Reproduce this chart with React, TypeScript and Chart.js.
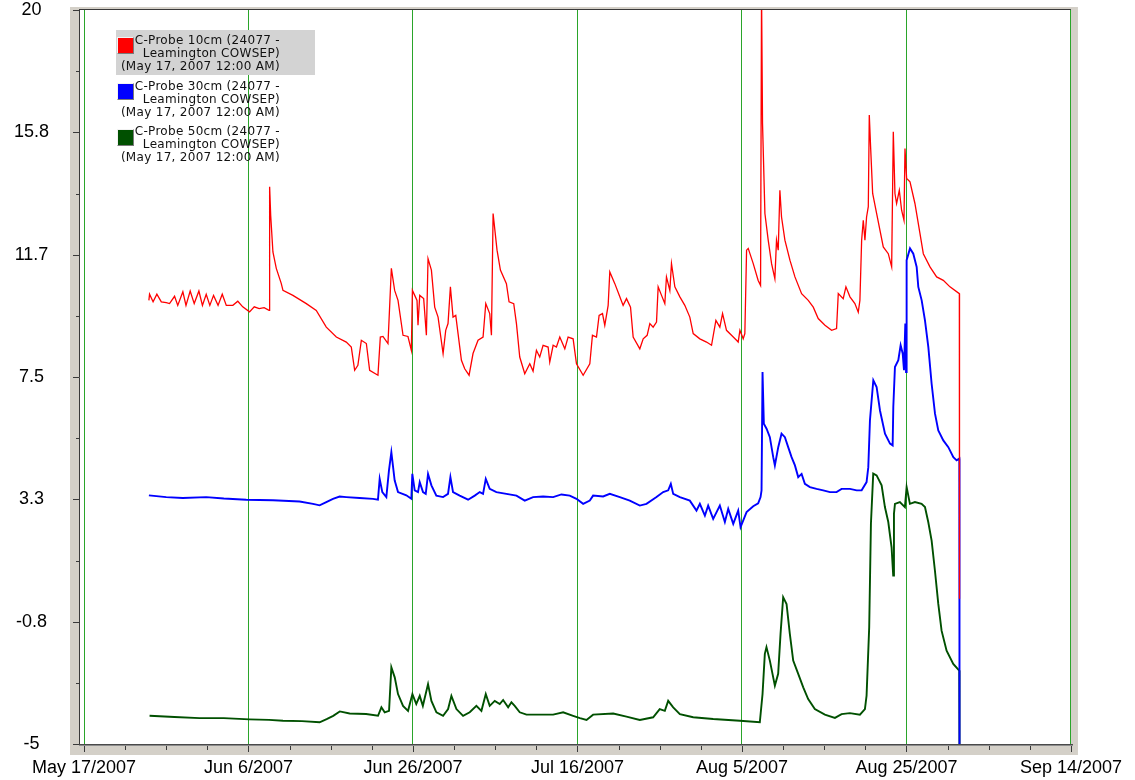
import React, { useEffect, useRef } from "react";
import { Chart, registerables } from "chart.js";

Chart.register(...registerables);

// ---- axis data ----
const X_TICK_DAYS = [0, 20, 40, 60, 80, 100, 120];
const X_TICK_LABELS = ["May 17/2007", "Jun 6/2007", "Jun 26/2007", "Jul 16/2007", "Aug 5/2007", "Aug 25/2007", "Sep 14/2007"];
const X_MINOR_STEP = 5;
const Y_TICK_VALUES = [-5, -0.8333, 3.3333, 7.5, 11.6667, 15.8333, 20];
const Y_TICK_LABELS = ["-5", "-0.8", "3.3", "7.5", "11.7", "15.8", "20"];

// ---- legend text ----
const SERIES_LINES: string[][] = [
  ["C-Probe 10cm (24077 -", "Leamington COWSEP)", "(May 17, 2007 12:00 AM)"],
  ["C-Probe 30cm (24077 -", "Leamington COWSEP)", "(May 17, 2007 12:00 AM)"],
  ["C-Probe 50cm (24077 -", "Leamington COWSEP)", "(May 17, 2007 12:00 AM)"],
];
const SERIES_COLORS = ["#ff0000", "#0000ff", "#005000"];

// ---- series: [days since May 17 2007, value] ----
const PROBE_10CM: [number, number][] = [
  [7.89, 10.11], [7.97, 10.32], [8.4, 10.06], [8.86, 10.32], [9.4, 10.06], [10.0, 10.03], [10.4, 10.0],
  [11.01, 10.25], [11.4, 9.94], [12.02, 10.4], [12.4, 9.94], [12.91, 10.43], [13.4, 10.0], [13.97, 10.43],
  [14.4, 9.94], [14.86, 10.32], [15.3, 9.94], [15.75, 10.28], [16.3, 9.94], [16.81, 10.32], [17.3, 9.94],
  [18.1, 9.94], [18.7, 10.08], [19.3, 9.89], [20.13, 9.72], [20.7, 9.89], [21.3, 9.83], [21.9, 9.86], [22.5, 9.77],
  [22.57, 13.98], [22.7, 13.0], [22.97, 11.76], [23.38, 11.2], [23.98, 10.69], [24.19, 10.45], [25.4, 10.28],
  [27.03, 10.0], [28.24, 9.77], [29.46, 9.2], [30.68, 8.86], [31.89, 8.69], [32.5, 8.52], [32.91, 7.73],
  [33.3, 7.9], [33.72, 8.75], [34.33, 8.64], [34.73, 7.73], [35.74, 7.56], [36.03, 8.86], [36.35, 8.88],
  [36.96, 8.64], [37.37, 11.2], [37.77, 10.45], [38.18, 10.11], [38.79, 8.92], [39.39, 8.88], [39.8, 8.41],
  [39.93, 10.45], [40.21, 10.28], [40.49, 10.11], [40.61, 9.26], [40.82, 10.28], [41.3, 10.17], [41.63, 8.92],
  [41.83, 11.53], [42.24, 11.14], [42.64, 9.88], [43.05, 9.54], [43.66, 8.3], [43.98, 9.09], [44.26, 9.32],
  [44.55, 10.57], [44.87, 9.54], [45.2, 9.6], [45.89, 8.07], [46.29, 7.78], [46.82, 7.56], [47.3, 8.3],
  [47.91, 8.75], [48.52, 8.86], [48.85, 10.0], [49.33, 9.66], [49.54, 8.92], [49.74, 13.07], [50.22, 11.82],
  [50.63, 11.14], [51.36, 10.68], [51.68, 10.06], [52.25, 10.0], [52.58, 9.32], [52.98, 8.18], [53.59, 7.61],
  [54.2, 7.95], [54.6, 7.7], [55.01, 8.41], [55.41, 8.18], [55.82, 8.58], [56.43, 8.52], [56.63, 8.01],
  [57.04, 8.58], [57.44, 8.52], [57.85, 8.86], [58.46, 8.46], [58.86, 8.86], [59.47, 8.8], [59.88, 7.95],
  [60.69, 7.56], [61.5, 7.95], [61.82, 8.92], [62.31, 8.86], [62.63, 9.6], [63.04, 9.66], [63.32, 9.26],
  [63.73, 9.94], [63.93, 11.08], [64.54, 10.68], [65.15, 10.23], [65.55, 9.94], [65.96, 10.17], [66.45, 9.88],
  [66.77, 8.86], [67.58, 8.46], [67.99, 8.8], [68.47, 8.92], [68.8, 9.32], [69.2, 9.2], [69.61, 9.37],
  [69.81, 10.57], [70.22, 10.28], [70.62, 10.0], [70.82, 10.91], [71.23, 10.45], [71.43, 11.36], [71.84, 10.57],
  [72.45, 10.23], [73.05, 9.94], [73.66, 9.54], [74.07, 8.98], [74.88, 8.8], [75.69, 8.69], [76.3, 8.58],
  [76.83, 9.43], [77.31, 9.2], [77.64, 9.66], [78.12, 9.09], [78.73, 8.92], [79.34, 8.75], [79.54, 8.69],
  [79.75, 9.09], [80.15, 8.8], [80.35, 8.98], [80.56, 11.82], [80.76, 11.88], [81.37, 11.36], [81.97, 10.79],
  [82.26, 10.62], [82.38, 20.6], [82.5, 16.13], [82.79, 13.07], [83.19, 12.16], [83.6, 11.36], [84.0, 10.85],
  [84.2, 12.16], [84.41, 11.82], [84.61, 13.86], [84.81, 12.95], [85.22, 12.16], [85.83, 11.48], [86.44, 10.91],
  [87.25, 10.34], [88.06, 10.11], [88.67, 9.88], [89.27, 9.49], [90.09, 9.26], [90.9, 9.09], [91.5, 9.15],
  [91.71, 10.34], [92.31, 10.17], [92.64, 10.57], [93.13, 10.23], [93.73, 10.0], [94.14, 9.71], [94.34, 10.11],
  [94.55, 12.16], [94.75, 12.84], [94.95, 12.16], [95.15, 12.95], [95.36, 13.3], [95.48, 16.42], [95.64, 15.34],
  [95.89, 13.75], [96.37, 13.07], [97.18, 11.93], [97.79, 11.7], [98.2, 11.25], [98.4, 15.85], [98.6, 13.75],
  [98.8, 13.41], [99.13, 13.86], [99.41, 13.18], [99.7, 12.84], [99.82, 15.28], [100.02, 14.26], [100.43, 14.15],
  [101.03, 13.41], [101.64, 12.39], [102.05, 11.7], [102.86, 11.25], [103.67, 10.91], [104.48, 10.79],
  [105.29, 10.57], [106.43, 10.34], [106.45, -0.05],
];

const PROBE_30CM: [number, number][] = [
  [7.89, 3.47], [10.0, 3.41], [12.0, 3.38], [14.86, 3.41], [17.0, 3.36], [19.73, 3.32], [22.97, 3.3],
  [26.21, 3.26], [27.84, 3.18], [28.65, 3.13], [29.46, 3.24], [30.27, 3.35], [31.08, 3.43], [31.89, 3.41],
  [33.51, 3.38], [35.14, 3.35], [35.74, 3.32], [35.95, 4.03], [36.27, 3.58], [36.76, 3.41], [37.08, 4.32],
  [37.37, 4.94], [37.77, 3.98], [38.18, 3.58], [39.19, 3.47], [39.8, 3.35], [39.92, 4.2], [40.21, 3.64],
  [40.61, 3.58], [40.82, 3.92], [41.22, 3.58], [41.55, 3.52], [41.83, 4.2], [42.24, 3.81], [42.84, 3.46],
  [43.66, 3.41], [44.26, 3.52], [44.55, 4.09], [44.87, 3.58], [45.68, 3.46], [46.7, 3.32], [47.51, 3.46],
  [48.12, 3.58], [48.52, 3.52], [48.85, 4.03], [49.33, 3.69], [50.14, 3.58], [51.36, 3.52], [52.58, 3.46],
  [53.59, 3.29], [54.6, 3.41], [55.82, 3.43], [57.04, 3.41], [58.05, 3.5], [59.06, 3.46], [59.88, 3.35],
  [60.69, 3.18], [61.5, 3.29], [61.9, 3.46], [63.12, 3.43], [63.93, 3.52], [65.15, 3.41], [66.36, 3.29],
  [67.58, 3.12], [68.39, 3.18], [69.61, 3.41], [70.42, 3.58], [71.03, 3.64], [71.35, 3.86], [71.64, 3.52],
  [72.45, 3.41], [73.66, 3.29], [74.47, 2.95], [74.88, 3.18], [75.49, 2.78], [75.89, 3.12], [76.5, 2.67],
  [77.31, 3.12], [77.92, 2.56], [78.33, 3.01], [78.94, 2.5], [79.54, 2.95], [79.83, 2.39], [80.56, 2.9],
  [81.37, 3.1], [81.97, 3.2], [82.26, 3.41], [82.38, 3.64], [82.5, 7.67], [82.66, 5.91], [82.99, 5.74],
  [83.39, 5.45], [83.8, 4.77], [84.0, 4.49], [84.41, 5.11], [84.81, 5.57], [85.22, 5.45], [85.62, 5.11],
  [86.03, 4.77], [86.44, 4.49], [86.84, 4.09], [87.25, 4.2], [87.65, 3.86], [88.26, 3.75], [89.07, 3.69],
  [89.88, 3.64], [90.7, 3.58], [91.5, 3.58], [92.11, 3.69], [93.13, 3.69], [93.94, 3.64], [94.55, 3.64],
  [95.15, 3.92], [95.36, 4.43], [95.56, 6.02], [95.97, 7.39], [96.37, 7.16], [96.78, 6.36], [97.39, 5.57],
  [98.0, 5.23], [98.32, 5.17], [98.4, 6.48], [98.6, 7.84], [99.01, 8.07], [99.29, 8.58], [99.54, 8.3],
  [99.7, 7.73], [99.86, 9.32], [99.95, 7.67], [100.02, 11.48], [100.43, 11.88], [100.83, 11.7], [101.24, 11.25],
  [101.44, 10.57], [101.85, 10.11], [102.25, 9.43], [102.66, 8.52], [103.06, 7.27], [103.47, 6.25],
  [103.87, 5.68], [104.48, 5.34], [105.09, 5.11], [105.7, 4.77], [106.1, 4.66], [106.43, 4.72], [106.45, -5.3],
];

const PROBE_50CM: [number, number][] = [
  [7.97, -4.04], [11.0, -4.08], [14.05, -4.12], [17.0, -4.12], [20.1, -4.16], [22.5, -4.18], [24.2, -4.21],
  [26.5, -4.22], [28.65, -4.26], [29.5, -4.15], [30.3, -4.04], [31.1, -3.89], [32.3, -3.96], [34.3, -3.98],
  [35.75, -4.04], [36.16, -3.75], [36.56, -3.92], [37.09, -3.87], [37.37, -2.39], [37.78, -2.73], [38.18, -3.3],
  [38.79, -3.7], [39.4, -3.87], [39.93, -3.3], [40.4, -3.64], [40.82, -3.36], [41.2, -3.7], [41.83, -2.96],
  [42.24, -3.53], [42.85, -3.92], [43.66, -4.04], [44.27, -3.81], [44.67, -3.36], [45.28, -3.81], [46.09, -4.04],
  [46.9, -3.92], [47.71, -3.7], [48.32, -3.87], [48.85, -3.3], [49.33, -3.7], [49.94, -3.53], [50.55, -3.64],
  [50.96, -3.5], [51.57, -3.75], [51.97, -3.58], [52.37, -3.7], [52.98, -3.92], [53.8, -4.0], [55.42, -4.0],
  [57.04, -4.0], [58.26, -3.92], [59.47, -4.04], [60.3, -4.12], [61.1, -4.18], [61.9, -4.0], [64.34, -3.96],
  [65.96, -4.07], [67.58, -4.18], [69.2, -4.09], [70.0, -3.81], [70.62, -3.87], [71.03, -3.53], [71.64, -3.75],
  [72.45, -3.98], [74.07, -4.09], [76.5, -4.15], [79.75, -4.21], [82.17, -4.26], [82.5, -3.3], [82.78, -1.93],
  [82.98, -1.7], [83.39, -2.16], [84.0, -3.01], [84.4, -2.61], [84.69, -1.25], [85.01, 0.0], [85.42, -0.23],
  [85.82, -1.25], [86.23, -2.16], [86.84, -2.61], [87.45, -3.07], [88.05, -3.47], [88.86, -3.81], [90.08, -4.0],
  [91.3, -4.11], [92.11, -3.98], [93.12, -3.95], [94.34, -4.0], [94.95, -3.81], [95.15, -3.35], [95.47, -1.02],
  [95.68, 2.5], [95.96, 4.21], [96.37, 4.15], [96.98, 3.81], [97.38, 3.07], [97.79, 2.56], [98.19, 1.7],
  [98.39, 0.74], [98.48, 2.84], [98.6, 3.18], [99.2, 3.24], [99.81, 3.07], [100.02, 3.75], [100.42, 3.18],
  [101.03, 3.24], [101.84, 3.18], [102.25, 3.07], [102.65, 2.56], [103.06, 1.93], [103.46, 0.91], [103.87, -0.23],
  [104.27, -1.14], [104.88, -1.82], [105.69, -2.27], [106.42, -2.5], [106.45, -5.3],
];

const SERIES_DATA = [PROBE_10CM, PROBE_30CM, PROBE_50CM];
const SERIES_WIDTHS = [1.3, 1.9, 1.9];

const AXIS_FONT = "'Liberation Sans', Arial, sans-serif";

const framePlugin = {
  id: "frame",
  beforeDraw(chart: any) {
    const { ctx, chartArea: a } = chart;
    ctx.save();
    ctx.fillStyle = "#d4d0c8";
    ctx.fillRect(a.left - 14, a.top - 3, a.right - a.left + 21, a.bottom - a.top + 14);
    ctx.fillStyle = "#ffffff";
    ctx.fillRect(a.left - 4, a.top, a.right - a.left + 4, a.bottom - a.top);
    ctx.restore();
  },
  afterDraw(chart: any) {
    const { ctx, chartArea: a, scales } = chart;
    const xs = scales.x;
    const ys = scales.y;
    ctx.save();
    ctx.strokeStyle = "#3a3a3a";
    ctx.lineWidth = 1;
    ctx.beginPath();
    ctx.moveTo(a.left - 5, a.top - 0.5);
    ctx.lineTo(a.right, a.top - 0.5);
    ctx.moveTo(a.left - 4.5, a.top - 1);
    ctx.lineTo(a.left - 4.5, a.bottom + 2);
    ctx.stroke();
    ctx.fillStyle = "#4a4a4a";
    ctx.fillRect(a.left - 5, a.bottom, a.right - a.left + 7, 1);
    ctx.fillStyle = "#8c8c8c";
    ctx.fillRect(a.left - 5, a.bottom + 1, a.right - a.left + 7, 1);
    ctx.beginPath();
    for (let i = 0; i < Y_TICK_VALUES.length; i++) {
      const y = Math.round(ys.getPixelForValue(Y_TICK_VALUES[i])) + 0.5;
      ctx.moveTo(a.left - 11, y);
      ctx.lineTo(a.left - 5, y);
      if (i < Y_TICK_VALUES.length - 1) {
        const ym = Math.round(ys.getPixelForValue((Y_TICK_VALUES[i] + Y_TICK_VALUES[i + 1]) / 2)) + 0.5;
        ctx.moveTo(a.left - 8, ym);
        ctx.lineTo(a.left - 5, ym);
      }
    }
    for (let d = xs.min; d <= xs.max + 1e-6; d += X_MINOR_STEP) {
      const x = Math.round(xs.getPixelForValue(d)) + 0.5;
      const major = X_TICK_DAYS.includes(d);
      ctx.moveTo(x, a.bottom + 2);
      ctx.lineTo(x, a.bottom + (major ? 8 : 6));
    }
    ctx.stroke();
    ctx.restore();
  },
};

export default function App() {
  const canvasRef = useRef<HTMLCanvasElement | null>(null);

  useEffect(() => {
    if (!canvasRef.current) return;
    const chart = new Chart(canvasRef.current, {
      type: "line",
      data: {
        datasets: SERIES_DATA.map((series, i) => ({
          label: SERIES_LINES[i][0],
          data: series.map(([x, y]) => ({ x, y })),
          borderColor: SERIES_COLORS[i],
          backgroundColor: SERIES_COLORS[i],
          borderWidth: SERIES_WIDTHS[i],
          pointRadius: 0,
          tension: 0,
          fill: false,
        })),
      },
      options: {
        animation: false,
        responsive: false,
        events: [],
        layout: { padding: { left: 0, top: 10, right: 64, bottom: 0 } },
        plugins: { legend: { display: false }, tooltip: { enabled: false } },
        scales: {
          x: {
            type: "linear",
            min: 0,
            max: 120,
            afterBuildTicks: (s: any) => {
              s.ticks = X_TICK_DAYS.map((v) => ({ value: v }));
            },
            afterFit: (s: any) => {
              s.height = 36;
            },
            grid: { color: "#2aa52a", lineWidth: 1, drawTicks: false },
            border: { display: false },
            ticks: {
              autoSkip: false,
              maxRotation: 0,
              padding: 13,
              color: "#000000",
              font: { family: AXIS_FONT, size: 18, lineHeight: 1.2 },
              callback: (_v: any, i: number) => X_TICK_LABELS[i],
            },
          },
          y: {
            type: "linear",
            min: -5,
            max: 20,
            afterBuildTicks: (s: any) => {
              s.ticks = Y_TICK_VALUES.map((v) => ({ value: v }));
            },
            afterFit: (s: any) => {
              s.width = 84;
            },
            grid: { display: false, drawTicks: true, tickLength: 35 },
            border: { display: false },
            ticks: {
              autoSkip: false,
              crossAlign: "center",
              padding: 0,
              color: "#000000",
              font: { family: AXIS_FONT, size: 18, lineHeight: 1 },
              callback: (_v: any, i: number) => Y_TICK_LABELS[i],
            },
          },
        },
      },
      plugins: [framePlugin],
    } as any);
    return () => chart.destroy();
  }, []);

  const legendTops = [30, 76, 121.5];
  return (
    <div style={{ position: "absolute", left: 0, top: 0, width: 1135, height: 780, background: "#ffffff" }}>
      <canvas ref={canvasRef} width={1135} height={780} style={{ display: "block", width: 1135, height: 780 }} />
      {SERIES_LINES.map((lines, i) => (
        <div key={i}>
          {i === 0 && (
            <div style={{ position: "absolute", left: 116, top: legendTops[i], width: 199, height: 45, background: "#d3d3d3" }} />
          )}
          <div
            style={{
              position: "absolute",
              left: 117,
              top: legendTops[i] + 7,
              width: 15,
              height: 15,
              background: SERIES_COLORS[i],
              borderTop: "1px solid #f2f2f2",
              borderLeft: "1px solid #f2f2f2",
              borderRight: "1px solid #7a7a7a",
              borderBottom: "1px solid #7a7a7a",
            }}
          />
          <div
            style={{
              position: "absolute",
              left: 110,
              top: legendTops[i] + 3.5,
              width: 170,
              textAlign: "right",
              font: "12px 'DejaVu Sans', Verdana, sans-serif",
              lineHeight: "13px",
              letterSpacing: "0.3px",
              color: "#111111",
              whiteSpace: "nowrap",
            }}
          >
            {lines.map((t, j) => (
              <div key={j}>{t}</div>
            ))}
          </div>
        </div>
      ))}
    </div>
  );
}
